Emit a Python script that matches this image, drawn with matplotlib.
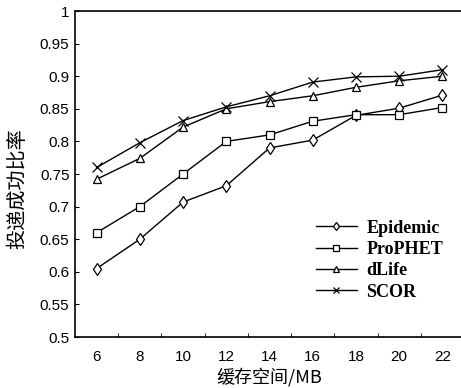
import matplotlib
matplotlib.use("Agg")
import matplotlib.pyplot as plt

buffer_sizes = [6, 8, 10, 12, 14, 16, 18, 20, 22]
epidemic = [0.605, 0.650, 0.707, 0.732, 0.790, 0.802, 0.840, 0.851, 0.871]
prophet = [0.660, 0.700, 0.750, 0.800, 0.810, 0.831, 0.841, 0.841, 0.852]
dlife = [0.742, 0.774, 0.822, 0.850, 0.861, 0.870, 0.883, 0.893, 0.900]
scor = [0.760, 0.798, 0.832, 0.853, 0.870, 0.891, 0.899, 0.900, 0.910]

y_ticks = [0.5, 0.55, 0.6, 0.65, 0.7, 0.75, 0.8, 0.85, 0.9, 0.95, 1.0]
y_tick_labels = ["0.5", "0.55", "0.6", "0.65", "0.7", "0.75", "0.8", "0.85", "0.9", "0.95", "1"]

cjk = ["Noto Sans CJK SC", "DejaVu Sans"]

fig = plt.figure(figsize=(4.61, 3.88), dpi=100)
ax = fig.add_axes([0.1627, 0.1314, 0.844, 0.8402])

x = list(range(len(buffer_sizes)))
series = [
    (epidemic, "Epidemic", "d"),
    (prophet, "ProPHET", "s"),
    (dlife, "dLife", "^"),
    (scor, "SCOR", "x"),
]
for y, label, marker in series:
    ax.plot(x, y, color="black", linewidth=1.0, marker=marker,
            markersize=6 if marker != "x" else 6.5,
            markerfacecolor="white", markeredgecolor="black",
            markeredgewidth=0.9, label=label)

ax.set_xlim(-0.5, len(buffer_sizes) - 0.5)
ax.set_ylim(0.5, 1.0)
ax.set_yticks(y_ticks)
ax.set_yticklabels(y_tick_labels, fontfamily="Liberation Sans", fontsize=11)
ax.set_xticks(x)
ax.set_xticklabels([str(v) for v in buffer_sizes], fontfamily="Liberation Sans", fontsize=11)
ax.set_xticks([i + 0.5 for i in x[:-1]], minor=True)
ax.tick_params(axis="x", which="major", length=0, pad=9)
ax.tick_params(axis="x", which="minor", direction="in", length=3)
ax.tick_params(axis="y", direction="in", length=3, pad=4)
for s in ax.spines.values():
    s.set_linewidth(1.2)

ax.set_xlabel("缓存空间/MB", fontfamily=cjk, fontsize=13, labelpad=3)
ax.set_ylabel("投递成功比率", fontfamily=cjk, fontsize=14.5)
ax.yaxis.set_label_coords(-0.12, 0.4566)

leg = ax.legend(loc="upper left", bbox_to_anchor=(0.6, 0.382), frameon=False,
                prop={"family": "Liberation Serif", "weight": "bold", "size": 13},
                handlelength=2.3, handletextpad=0.5, labelspacing=0.24,
                markerscale=0.75, borderaxespad=0)

fig.savefig("out.png", dpi=100)
